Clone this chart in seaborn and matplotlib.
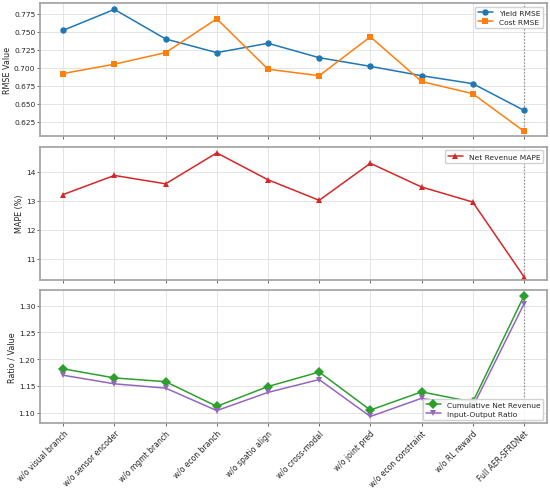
import numpy as np
import pandas as pd
import matplotlib
matplotlib.use("Agg")
import matplotlib.pyplot as plt
import seaborn as sns

variants = ["w/o visual branch", "w/o sensor encoder", "w/o mgmt branch", "w/o econ branch",
            "w/o spatio align", "w/o cross-modal", "w/o joint pred", "w/o econ constraint",
            "w/o RL reward", "Full AER-SFRDNet"]
yield_rmse = [0.752, 0.781, 0.740, 0.721, 0.734, 0.714, 0.702, 0.689, 0.678, 0.641]
cost_rmse = [0.692, 0.705, 0.721, 0.768, 0.698, 0.689, 0.743, 0.681, 0.664, 0.612]
revenue_mape = [13.22, 13.88, 13.59, 14.66, 13.73, 13.02, 14.30, 13.48, 12.96, 10.38]
cum_revenue = [1.182, 1.165, 1.158, 1.112, 1.149, 1.176, 1.105, 1.139, 1.120, 1.318]
io_ratio = [1.170, 1.154, 1.146, 1.104, 1.138, 1.162, 1.093, 1.127, 1.111, 1.303]

sns.set_theme(style="whitegrid")
plt.rcParams['font.family'] = ['DejaVu Sans']

fig, axes = plt.subplots(3, 1, figsize=(5.5, 4.89), dpi=100, sharex=True)
fig.subplots_adjust(left=0.073, right=0.9945, top=0.992, bottom=0.132, hspace=0.077)

x = np.arange(len(variants))
line_kw = dict(markersize=4.6, markeredgewidth=0, linewidth=1.1)
leg_kw = dict(fontsize=5.4, handlelength=2.0, borderpad=0.4, labelspacing=0.35,
              framealpha=0.9, edgecolor="#cccccc")

def style_axis(ax):
    for s in ax.spines.values():
        s.set_color("#a0a0a0")
        s.set_linewidth(1.2)
    ax.grid(True, color="#e4e4e4", linewidth=0.7)
    ax.tick_params(axis="both", labelsize=5.4, pad=1.5, length=2, width=0.6, color="#555555")
    ax.tick_params(axis="x", bottom=True, length=2.5, pad=1)
    ax.tick_params(axis="y", left=True)
    ax.axvline(x[-1], color="#888888", linestyle=":", linewidth=0.9, zorder=1)

# panel 1: RMSE
ax = axes[0]
sns.lineplot(x=x, y=yield_rmse, ax=ax, marker="o", color="#1f77b4", label="Yield RMSE", **line_kw)
sns.lineplot(x=x, y=cost_rmse, ax=ax, marker="s", color="#ff7f0e", label="Cost RMSE", **line_kw)
ax.set_ylim(0.605, 0.790)
ax.set_yticks([0.625, 0.650, 0.675, 0.700, 0.725, 0.750, 0.775])
ax.set_yticklabels([f"{v:.3f}" for v in [0.625, 0.650, 0.675, 0.700, 0.725, 0.750, 0.775]])
ax.set_ylabel("RMSE Value", fontsize=5.8, labelpad=1.5)
ax.legend(loc="upper right", **leg_kw)
style_axis(ax)

# panel 2: MAPE
ax = axes[1]
sns.lineplot(x=x, y=revenue_mape, ax=ax, marker="^", color="#d62728", label="Net Revenue MAPE", **line_kw)
ax.set_ylim(10.27, 14.88)
ax.set_yticks([11, 12, 13, 14])
ax.set_ylabel("MAPE (%)", fontsize=5.8, labelpad=1.5)
ax.legend(loc="upper right", **leg_kw)
style_axis(ax)

# panel 3: ratios
ax = axes[2]
sns.lineplot(x=x, y=cum_revenue, ax=ax, marker="D", color="#2ca02c",
             label="Cumulative Net Revenue", **line_kw)
sns.lineplot(x=x, y=io_ratio, ax=ax, marker="v", color="#9467bd",
             label="Input-Output Ratio", **line_kw)
ax.set_ylim(1.080, 1.329)
ax.set_yticks([1.10, 1.15, 1.20, 1.25, 1.30])
ax.set_yticklabels([f"{v:.2f}" for v in [1.10, 1.15, 1.20, 1.25, 1.30]])
ax.set_ylabel("Ratio / Value", fontsize=5.8, labelpad=1.5)
ax.legend(loc="lower right", **leg_kw)
style_axis(ax)

ax.set_xticks(x)
ax.set_xticklabels(variants, rotation=45, ha="right", rotation_mode="anchor", fontsize=5.5)
ax.set_xlim(-0.45, 9.45)

fig.savefig("out.png", dpi=100)
